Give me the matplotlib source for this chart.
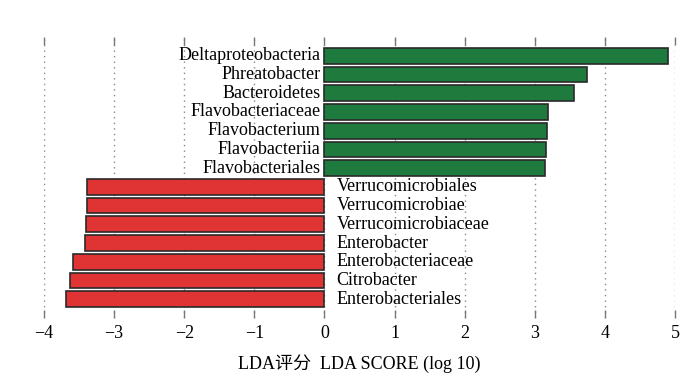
import matplotlib
matplotlib.use("Agg")
import matplotlib.pyplot as plt

# taxa from top to bottom, LDA scores (log10)
taxa = ["Deltaproteobacteria", "Phreatobacter", "Bacteroidetes", "Flavobacteriaceae",
        "Flavobacterium", "Flavobacteriia", "Flavobacteriales",
        "Verrucomicrobiales", "Verrucomicrobiae", "Verrucomicrobiaceae",
        "Enterobacter", "Enterobacteriaceae", "Citrobacter", "Enterobacteriales"]
scores = [4.90, 3.75, 3.56, 3.19, 3.18, 3.16, 3.15,
          -3.38, -3.39, -3.40, -3.42, -3.58, -3.63, -3.69]
xticks = [-4, -3, -2, -1, 0, 1, 2, 3, 4, 5]
xlabel = "LDA评分  LDA SCORE (log 10)"

GREEN = "#1f7a3e"
RED = "#e03434"
FONT = ["Liberation Serif", "Noto Sans CJK SC"]
plt.rcParams["font.family"] = FONT

fig = plt.figure(figsize=(7, 3.82), dpi=100)
ax = fig.add_axes([44 / 700, 1 - 318 / 382, 631 / 700, 281 / 382])

ypos = list(range(len(taxa)))
colors = [GREEN if s > 0 else RED for s in scores]
ax.barh(ypos, scores, height=0.84, color=colors, edgecolor="#2a2a2a", linewidth=1.2, zorder=3)

for y, name, s in zip(ypos, taxa, scores):
    if s > 0:
        ax.text(-0.06, y, name, ha="right", va="center", fontsize=13, zorder=4)
    else:
        ax.text(0.17, y, name, ha="left", va="center", fontsize=13, zorder=4)

ax.set_xlim(-4, 5)
ax.set_ylim(len(taxa), -1)
ax.set_yticks([])
ax.set_xticks(xticks)
ax.set_xticklabels(["\u2212%d" % -t if t < 0 else str(t) for t in xticks], fontsize=13)
ax.tick_params(axis="x", direction="in", length=6, width=1, color="#777777",
               top=True, bottom=True, pad=5)
ax.grid(axis="x", linestyle=(0, (1, 3)), color="#888888", linewidth=1, zorder=0)
for sp in ax.spines.values():
    sp.set_visible(False)
for t in ax.xaxis.get_major_ticks():
    t.tick1line.set_clip_on(False)
    t.tick2line.set_clip_on(False)

ax.set_xlabel(xlabel, fontsize=13, labelpad=9)

fig.savefig("out.png", dpi=100)
